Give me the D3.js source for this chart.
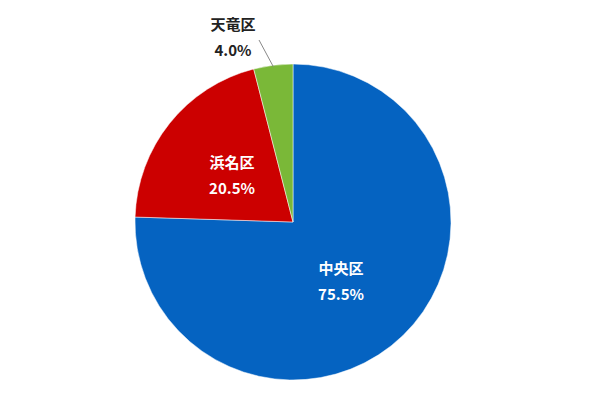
<!DOCTYPE html>
<html>
<head>
<meta charset="utf-8">
<script src="https://cdn.jsdelivr.net/npm/d3@7"></script>
<style>
  body { margin: 0; background: #fff; }
</style>
</head>
<body>
<div id="chart"></div>
<script>
const labels = ["中央区", "浜名区", "天竜区"];
const values = [75.5, 20.5, 4.0];
const colors = ["#0563C1", "#CC0000", "#7AB838"];

const width = 596, height = 413;
const cx = 293, cy = 222, radius = 158;

const svg = d3.select("#chart").append("svg")
  .attr("width", width)
  .attr("height", height);

const g = svg.append("g").attr("transform", `translate(${cx},${cy})`);

const pie = d3.pie().sort(null).value(d => d);
const arcs = pie(values);
const arc = d3.arc().innerRadius(0).outerRadius(radius);

g.selectAll("path")
  .data(arcs)
  .enter()
  .append("path")
  .attr("d", arc)
  .attr("fill", (d, i) => colors[i])
  .attr("stroke", "#fff")
  .attr("stroke-width", 0.5);

// label positions (offset from centre)
const labelPos = [[48, 52], [-61, -54], [-60, -192]];
const labelColor = ["#fff", "#fff", "#222"];

arcs.forEach((d, i) => {
  const [lx, ly] = labelPos[i];
  const t = g.append("text")
    .attr("x", lx)
    .attr("y", ly)
    .attr("text-anchor", "middle")
    .style("font-family", "'Noto Sans CJK JP', sans-serif")
    .style("font-weight", "bold")
    .style("font-size", "15px")
    .attr("fill", labelColor[i]);
  t.append("tspan").attr("x", lx).attr("dy", 0).text(labels[i]);
  t.append("tspan").attr("x", lx).attr("dy", 26).text(values[i].toFixed(1) + "%");
});

// leader line for small slice
const mid = (arcs[2].startAngle + arcs[2].endAngle) / 2;
g.append("line")
  .attr("x1", Math.sin(mid) * radius * 0.99)
  .attr("y1", -Math.cos(mid) * radius * 0.99)
  .attr("x2", -34)
  .attr("y2", -182)
  .attr("stroke", "#888")
  .attr("stroke-width", 1);
</script>
</body>
</html>
